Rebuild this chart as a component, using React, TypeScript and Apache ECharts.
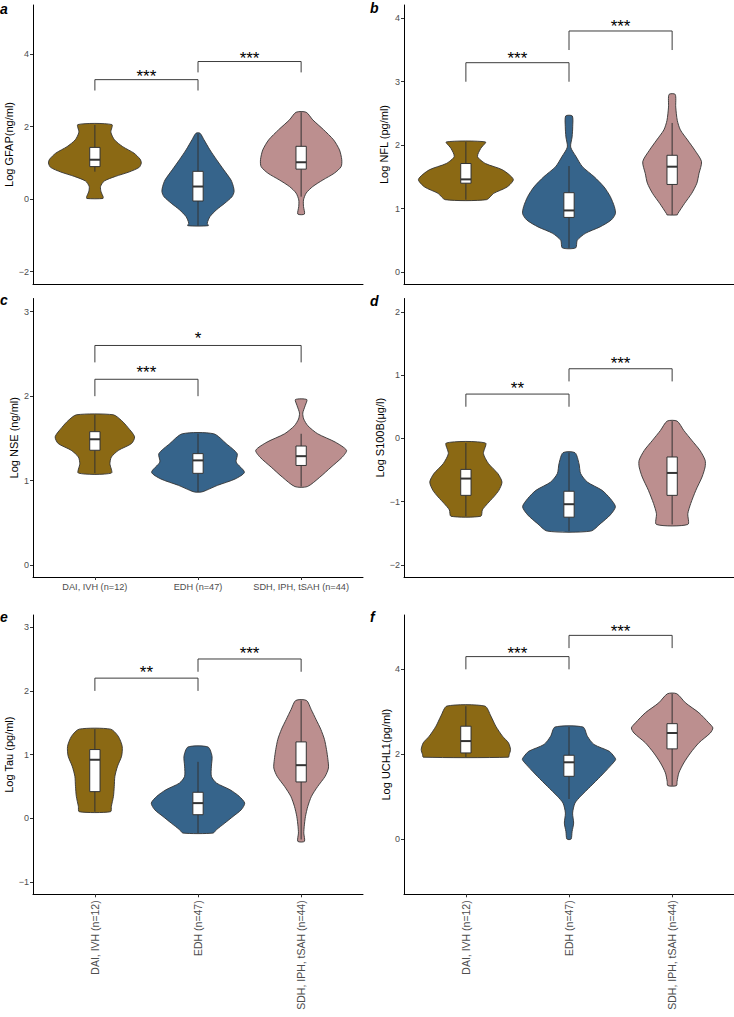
import React, { useEffect, useRef } from "react";
import * as echarts from "echarts";

const FONT = "'Liberation Sans', Arial, Helvetica, sans-serif";

const groups = ["DAI, IVH (n=12)", "EDH (n=47)", "SDH, IPH, tSAH (n=44)"];
const groupColors = ["#8B6914", "#36648B", "#BC8F8F"];

// violin profiles: [value, half width in category units], top to bottom
const gfapViolins = [
  [[2.06,0.165],[1.85,0.155],[1.64,0.19],[1.45,0.27],[1.27,0.38],[1.1,0.44],[1.0,0.45],[0.88,0.43],[0.75,0.33],[0.63,0.2],[0.5,0.09],[0.35,0.055],[0.2,0.06],[0.07,0.08],[0.02,0.078]],
  [[1.82,0.02],[1.64,0.058],[1.36,0.116],[1.09,0.18],[0.81,0.25],[0.53,0.32],[0.35,0.343],[0.21,0.35],[0.07,0.33],[-0.11,0.26],[-0.29,0.18],[-0.48,0.116],[-0.66,0.09],[-0.73,0.1]],
  [[2.40,0.049],[2.19,0.113],[1.92,0.217],[1.64,0.314],[1.36,0.372],[1.09,0.394],[0.90,0.388],[0.72,0.323],[0.53,0.21],[0.35,0.113],[0.17,0.049],[-0.02,0.023],[-0.2,0.023],[-0.41,0.032]],
];
const gfapBoxes = [[0.76,0.9,1.09,1.43,2.05],[-0.73,-0.05,0.35,0.77,1.8],[0.07,0.83,1.02,1.46,2.4]];
const gfapBrackets = [[1,2,3.3,3.0,"***"],[2,3,3.8,3.5,"***"]];
const gfapTicks = [-2,0,2,4];

const nflViolins = [
  [[2.05,0.19],[1.95,0.145],[1.82,0.113],[1.71,0.19],[1.61,0.355],[1.46,0.46],[1.34,0.40],[1.24,0.27],[1.14,0.2]],
  [[2.46,0.032],[2.29,0.036],[2.13,0.03],[1.97,0.016],[1.82,0.068],[1.66,0.13],[1.50,0.245],[1.34,0.34],[1.19,0.40],[1.03,0.44],[0.92,0.45],[0.82,0.41],[0.71,0.3],[0.61,0.16],[0.50,0.08],[0.38,0.065]],
  [[2.80,0.03],[2.60,0.035],[2.39,0.05],[2.24,0.08],[2.08,0.15],[1.92,0.22],[1.74,0.285],[1.55,0.26],[1.40,0.24],[1.24,0.19],[1.08,0.12],[0.92,0.055],[0.90,0.05]],
];
const nflBoxes = [[1.14,1.40,1.46,1.71,2.05],[0.38,0.86,0.97,1.25,1.67],[0.90,1.38,1.66,1.84,2.35]];
const nflBrackets = [[1,2,3.3,3.0,"***"],[2,3,3.8,3.5,"***"]];
const nflTicks = [0,1,2,3,4];

const nseViolins = [
  [[1.78,0.178],[1.71,0.26],[1.63,0.32],[1.52,0.385],[1.44,0.356],[1.36,0.23],[1.28,0.16],[1.20,0.146],[1.09,0.16]],
  [[1.555,0.152],[1.437,0.275],[1.319,0.38],[1.22,0.37],[1.10,0.45],[1.02,0.36],[0.945,0.19],[0.886,0.08],[0.866,0.035]],
  [[1.96,0.055],[1.89,0.04],[1.80,0.016],[1.73,0.025],[1.65,0.065],[1.555,0.16],[1.457,0.33],[1.36,0.44],[1.28,0.40],[1.16,0.29],[1.04,0.18],[0.93,0.06]],
];
const nseBoxes = [[1.09,1.36,1.49,1.58,1.78],[0.866,1.087,1.24,1.32,1.555],[0.93,1.18,1.29,1.41,1.555]];
const nseBrackets = [[1,2,2.2,2.0,"***"],[1,3,2.6,2.4,"*"]];
const nseTicks = [0,1,2,3];

const s100bViolins = [
  [[-0.073,0.19],[-0.24,0.17],[-0.40,0.22],[-0.556,0.31],[-0.69,0.35],[-0.82,0.32],[-0.924,0.27],[-1.03,0.21],[-1.13,0.16],[-1.23,0.145]],
  [[-0.226,0.058],[-0.40,0.097],[-0.556,0.113],[-0.69,0.178],[-0.82,0.32],[-0.95,0.40],[-1.08,0.45],[-1.21,0.40],[-1.34,0.31],[-1.465,0.21]],
  [[0.273,0.048],[0.126,0.113],[-0.03,0.19],[-0.19,0.27],[-0.346,0.32],[-0.45,0.32],[-0.61,0.29],[-0.82,0.23],[-1.03,0.18],[-1.19,0.152],[-1.36,0.152]],
];
const s100bBoxes = [[-1.23,-0.90,-0.635,-0.49,-0.073],[-1.465,-1.245,-1.04,-0.835,-0.226],[-1.36,-0.90,-0.546,-0.294,0.273]];
const s100bBrackets = [[1,2,0.7,0.5,"**"],[2,3,1.1,0.9,"***"]];
const s100bTicks = [-2,-1,0,1,2];

const tauViolins = [
  [[1.40,0.152],[1.29,0.226],[1.13,0.265],[0.976,0.259],[0.82,0.22],[0.66,0.194],[0.50,0.188],[0.346,0.18],[0.19,0.16],[0.105,0.152]],
  [[1.12,0.097],[0.976,0.136],[0.82,0.13],[0.66,0.13],[0.556,0.178],[0.45,0.31],[0.346,0.40],[0.24,0.453],[0.136,0.42],[0.031,0.34],[-0.073,0.26],[-0.178,0.178],[-0.23,0.146]],
  [[1.85,0.052],[1.71,0.097],[1.55,0.145],[1.40,0.19],[1.24,0.226],[1.08,0.246],[0.92,0.26],[0.79,0.265],[0.66,0.233],[0.50,0.16],[0.346,0.10],[0.19,0.065],[0.031,0.042],[-0.126,0.03],[-0.23,0.026],[-0.36,0.032]],
];
const tauBoxes = [[0.105,0.42,0.92,1.08,1.40],[-0.23,0.058,0.24,0.41,0.887],[-0.33,0.572,0.835,1.20,1.85]];
const tauBrackets = [[1,2,2.2,2.0,"**"],[2,3,2.5,2.3,"***"]];
const tauTicks = [-1,0,1,2,3];

const uchl1Violins = [
  [[3.134,0.184],[2.90,0.242],[2.66,0.29],[2.425,0.355],[2.27,0.413],[2.11,0.433],[1.99,0.42],[1.93,0.413]],
  [[2.64,0.136],[2.425,0.178],[2.23,0.242],[2.07,0.39],[1.95,0.436],[1.874,0.452],[1.72,0.40],[1.48,0.307],[1.244,0.21],[1.01,0.113],[0.85,0.058],[0.614,0.035],[0.378,0.045],[0.18,0.03],[0.0,0.02]],
  [[3.425,0.045],[3.21,0.13],[2.976,0.26],[2.74,0.355],[2.62,0.395],[2.50,0.37],[2.27,0.26],[2.03,0.178],[1.795,0.113],[1.56,0.065],[1.36,0.048],[1.26,0.042]],
];
const uchl1Boxes = [[1.93,2.03,2.31,2.66,3.13],[0.945,1.48,1.81,1.976,2.64],[1.26,2.126,2.50,2.72,3.425]];
const uchl1Brackets = [[1,2,4.3,4.0,"***"],[2,3,4.8,4.5,"***"]];
const uchl1Ticks = [0,2,4];

const panels = [
  { letter: "a", lx: 0, ly: 16, grid: { left: 33, top: 5, width: 330, height: 279 }, yMin: -2.34, yMax: 5.36, ticks: gfapTicks, yName: "Log GFAP(ng/ml)", nameGap: 17, violins: gfapViolins, boxes: gfapBoxes, brackets: gfapBrackets, xMode: "none", starGap: 7.3 },
  { letter: "b", lx: 370, ly: 15, grid: { left: 404, top: 5, width: 330, height: 279 }, yMin: -0.19, yMax: 4.21, ticks: nflTicks, yName: "Log NFL (pg/ml)", nameGap: 14.5, violins: nflViolins, boxes: nflBoxes, brackets: nflBrackets, xMode: "none", starGap: 9 },
  { letter: "c", lx: 0, ly: 307, grid: { left: 33, top: 298.5, width: 330, height: 278.5 }, yMin: -0.14, yMax: 3.156, ticks: nseTicks, yName: "Log NSE (ng/ml)", nameGap: 13.5, violins: nseViolins, boxes: nseBoxes, brackets: nseBrackets, xMode: "flat", starGap: 11.5 },
  { letter: "d", lx: 370, ly: 308, grid: { left: 404, top: 298.5, width: 330, height: 278.5 }, yMin: -2.19, yMax: 2.21, ticks: s100bTicks, yName: "Log S100B(μg/l)", nameGap: 18, violins: s100bViolins, boxes: s100bBoxes, brackets: s100bBrackets, xMode: "none", starGap: 9.7 },
  { letter: "e", lx: 0, ly: 624, grid: { left: 33, top: 615, width: 330, height: 279.3 }, yMin: -1.19, yMax: 3.19, ticks: tauTicks, yName: "Log Tau (pg/ml)", nameGap: 17.5, violins: tauViolins, boxes: tauBoxes, brackets: tauBrackets, xMode: "rot", starGap: 9.8 },
  { letter: "f", lx: 370, ly: 624, grid: { left: 404, top: 615, width: 330, height: 279.3 }, yMin: -1.3, yMax: 5.28, ticks: uchl1Ticks, yName: "Log UCHL1(pg/ml)", nameGap: 13, violins: uchl1Violins, boxes: uchl1Boxes, brackets: uchl1Brackets, xMode: "rot", starGap: 8 },
];

function buildOption() {
  const series: any[] = [];
  panels.forEach((p, gi) => {
    series.push({
      type: "custom",
      xAxisIndex: gi,
      yAxisIndex: gi,
      silent: true,
      data: p.violins.map((_, i) => [i + 1, p.boxes[i][2]]),
      renderItem: (params: any, api: any) => {
        const i = params.dataIndex;
        const prof = p.violins[i];
        const cx = api.value(0);
        const right = prof.map(([v, w]: number[]) => api.coord([cx + w, v]));
        const left = prof.slice().reverse().map(([v, w]: number[]) => api.coord([cx - w, v]));
        return {
          type: "polygon",
          shape: { points: right.concat(left), smooth: 0.25 },
          style: { fill: groupColors[i], stroke: "#333333", lineWidth: 0.9 },
        };
      },
    });
    series.push({
      type: "custom",
      xAxisIndex: gi,
      yAxisIndex: gi,
      silent: true,
      data: p.boxes.map((b, i) => [i + 1, ...b]),
      renderItem: (params: any, api: any) => {
        const cx = api.value(0);
        const lo = api.value(1), q1 = api.value(2), med = api.value(3), q3 = api.value(4), hi = api.value(5);
        const hw = 0.05;
        const pHi = api.coord([cx, hi]);
        const pLo = api.coord([cx, lo]);
        const tl = api.coord([cx - hw, q3]);
        const br = api.coord([cx + hw, q1]);
        const ml = api.coord([cx - hw, med]);
        const mr = api.coord([cx + hw, med]);
        return {
          type: "group",
          children: [
            { type: "line", shape: { x1: pHi[0], y1: pHi[1], x2: pLo[0], y2: pLo[1] }, style: { stroke: "#333333", lineWidth: 1 } },
            { type: "rect", shape: { x: tl[0], y: tl[1], width: br[0] - tl[0], height: br[1] - tl[1] }, style: { fill: "#ffffff", stroke: "#333333", lineWidth: 1 } },
            { type: "line", shape: { x1: ml[0], y1: ml[1], x2: mr[0], y2: mr[1] }, style: { stroke: "#333333", lineWidth: 2 } },
          ],
        };
      },
    });
    series.push({
      type: "custom",
      xAxisIndex: gi,
      yAxisIndex: gi,
      silent: true,
      data: p.brackets.map((b) => [b[0], b[1], b[2], b[3]]),
      renderItem: (params: any, api: any) => {
        const x1 = api.value(0), x2 = api.value(1), top = api.value(2), leg = api.value(3);
        const a = api.coord([x1, leg]);
        const b = api.coord([x1, top]);
        const c = api.coord([x2, top]);
        const d = api.coord([x2, leg]);
        const label = p.brackets[params.dataIndex][4];
        return {
          type: "group",
          children: [
            { type: "polyline", shape: { points: [a, b, c, d] }, style: { stroke: "#3c3c3c", lineWidth: 1, fill: "none" } },
            {
              type: "text",
              style: {
                text: label,
                x: (b[0] + c[0]) / 2,
                y: b[1] - p.starGap + 4.5,
                align: "center",
                verticalAlign: "middle",
                font: `17px ${FONT}`,
                fill: "#000",
              },
            },
          ],
        };
      },
    });
  });

  return {
    animation: false,
    backgroundColor: "#ffffff",
    grid: panels.map((p) => ({ ...p.grid, containLabel: false })),
    xAxis: panels.map((p, i) => ({
      type: "value",
      gridIndex: i,
      min: 0.4,
      max: 3.6,
      splitLine: { show: false },
      axisLine: { show: true, onZero: false, lineStyle: { color: "#000", width: 1 } },
      axisTick: { show: p.xMode !== "none", customValues: [1, 2, 3], length: 3, lineStyle: { color: "#333" } },
      axisLabel: {
        show: p.xMode !== "none",
        customValues: [1, 2, 3],
        formatter: (v: number) => groups[Math.round(v) - 1] || "",
        rotate: p.xMode === "rot" ? 90 : 0,
        margin: p.xMode === "rot" ? 6 : 5,
        fontSize: p.xMode === "rot" ? 10.5 : 9.2,
        color: "#4D4D4D",
        fontFamily: FONT,
      },
    })),
    yAxis: panels.map((p, i) => ({
      type: "value",
      gridIndex: i,
      min: p.yMin,
      max: p.yMax,
      splitLine: { show: false },
      axisLine: { show: true, onZero: false, lineStyle: { color: "#000", width: 1 } },
      axisTick: { show: true, customValues: p.ticks, length: 3, lineStyle: { color: "#333" } },
      axisLabel: { customValues: p.ticks, margin: 4, fontSize: 9, color: "#4D4D4D", fontFamily: FONT, formatter: (v: number) => (v < 0 ? "\u2212" + Math.abs(v) : String(v)) },
      name: p.yName,
      nameLocation: "middle",
      nameRotate: 90,
      nameGap: p.nameGap,
      nameTextStyle: { fontSize: 11, color: "#000", fontFamily: FONT },
    })),
    graphic: panels.map((p) => ({
      type: "text",
      x: p.lx,
      y: p.ly,
      style: { text: p.letter, font: `italic bold 14px ${FONT}`, fill: "#000", verticalAlign: "bottom", align: "left" },
    })),
    series,
  };
}

export default function App() {
  const ref = useRef<HTMLDivElement>(null);
  useEffect(() => {
    if (!ref.current) return;
    const chart = echarts.init(ref.current, null, { renderer: "svg" });
    chart.setOption(buildOption() as any);
    return () => chart.dispose();
  }, []);
  return <div ref={ref} style={{ position: "absolute", left: 0, top: 0, width: 734, height: 1017 }} />;
}
